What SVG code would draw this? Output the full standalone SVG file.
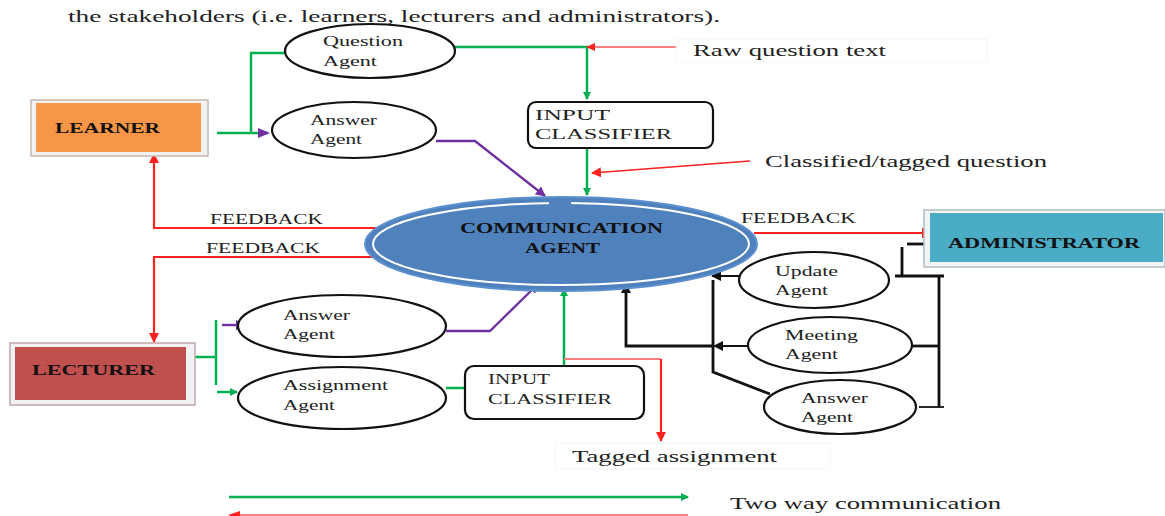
<svg xmlns="http://www.w3.org/2000/svg" width="1165" height="516" viewBox="0 0 1165 516">
<defs>
<style>
text{font-family:"Liberation Serif","Times New Roman",serif;fill:#222}
.lbl{font-size:14px}
.big{font-size:17px}
.bold{font-weight:bold;font-size:14px;fill:#111}
.el{fill:#fff;stroke:#111;stroke-width:2.2}
.g{stroke:#00b050;stroke-width:2.5;fill:none}
.p{stroke:#7030a0;stroke-width:2.4;fill:none}
.r{stroke:#ff2020;stroke-width:2.2;fill:none}
.rl{stroke:#ff8080;stroke-width:1.8;fill:none}
.k{stroke:#111;stroke-width:2.8;fill:none}
</style>
<marker id="ag" markerWidth="8" markerHeight="8" refX="7" refY="4" orient="auto" markerUnits="userSpaceOnUse"><path d="M0,0L8,4L0,8z" fill="#00b050"/></marker>
<marker id="ap" markerWidth="10" markerHeight="10" refX="9" refY="5" orient="auto" markerUnits="userSpaceOnUse"><path d="M0,0L10,5L0,10z" fill="#7030a0"/></marker>
<marker id="ar" markerWidth="10" markerHeight="10" refX="9" refY="5" orient="auto" markerUnits="userSpaceOnUse"><path d="M0,0L10,5L0,10z" fill="#ff2020"/></marker>
<marker id="ak" markerWidth="10" markerHeight="10" refX="9" refY="5" orient="auto" markerUnits="userSpaceOnUse"><path d="M0,0L10,5L0,10z" fill="#111"/></marker>
<marker id="bar" markerWidth="2" markerHeight="10" refX="1" refY="5" orient="auto" markerUnits="userSpaceOnUse"><rect x="0" y="0" width="2" height="10" fill="#ff2020"/></marker>
</defs>
<rect width="1165" height="516" fill="#fff"/>
<text x="68" y="22" class="big" textLength="652" lengthAdjust="spacingAndGlyphs">the stakeholders (i.e. learners, lecturers and administrators).</text>

<g id="connectors">
<polyline class="g" points="217,133 268,133"/>
<path d="M258,128L270,133L258,138z" fill="#7030a0"/>
<polyline class="g" points="251,133 251,53 286,53"/>
<polyline class="g" points="454,47 587,47 587,99" marker-end="url(#ag)"/>
<line class="rl" x1="677" y1="47" x2="590" y2="47"/>
<path d="M586,47L595,43L595,51z" fill="#ff2020"/>
<line class="g" x1="587" y1="148" x2="587" y2="195" marker-end="url(#ag)"/>
<line class="r" x1="750" y1="161" x2="592" y2="173" marker-end="url(#ar)" style="stroke-width:1.5"/>
<polyline class="p" points="436,141 475,141 545,196" marker-end="url(#ap)"/>
<polyline class="r" points="387,228 154,228 154,154" marker-end="url(#ar)"/>
<polyline class="r" points="387,257 154,257 154,342" marker-end="url(#ar)"/>
<line class="r" x1="754" y1="233" x2="923" y2="233" marker-end="url(#bar)"/>
<line class="g" x1="195" y1="357" x2="216" y2="357"/>
<line class="g" x1="216" y1="320" x2="216" y2="385"/>
<line class="p" x1="222" y1="325" x2="245" y2="325" marker-end="url(#ap)"/>
<line class="g" x1="217" y1="392" x2="237" y2="392" marker-end="url(#ag)"/>
<polyline class="p" points="446,331 490,331 538,284" marker-end="url(#ap)"/>
<line class="g" x1="446" y1="388" x2="465" y2="388"/>
<line class="g" x1="564" y1="366" x2="564" y2="289" marker-end="url(#ag)"/>
<polyline class="rl" points="564,359 661,359"/>
<line class="r" x1="661" y1="359" x2="661" y2="441" marker-end="url(#ar)"/>
<line class="k" x1="907" y1="244" x2="932" y2="244"/>
<line class="k" x1="902" y1="247" x2="902" y2="277"/>
<line class="k" x1="895" y1="276" x2="944" y2="276"/>
<line class="k" x1="939" y1="276" x2="939" y2="407"/>
<line class="k" x1="919" y1="407" x2="944" y2="407" style="stroke-width:1.8"/>
<line class="k" x1="909" y1="346" x2="939" y2="346"/>
<line class="k" x1="739" y1="276" x2="712" y2="276" marker-end="url(#ak)" style="stroke-width:2"/>
<polyline class="k" points="713,280 713,372 770,394"/>
<line class="k" x1="748" y1="346" x2="714" y2="346" marker-end="url(#ak)" style="stroke-width:2"/>
<polyline class="k" points="714,346 626,346 626,284" marker-end="url(#ak)"/>
<line class="g" x1="229" y1="497" x2="688" y2="497" marker-end="url(#ag)"/>
<line class="rl" x1="240" y1="515" x2="688" y2="515"/>
<path d="M228,515L240,511L240,519z" fill="#ff2020"/>
</g>

<g id="learner">
<rect x="31" y="100" width="177" height="56" fill="#f2f2f2" stroke="#c8b8b0" stroke-width="1.5"/>
<rect x="36" y="103" width="165" height="49" fill="#f79646"/>
<text x="55" y="133" class="bold" textLength="105" lengthAdjust="spacingAndGlyphs">LEARNER</text>
</g>

<g id="question-agent">
<ellipse cx="370" cy="51" rx="85" ry="27" class="el"/>
<text x="323" y="46" class="lbl" textLength="80" lengthAdjust="spacingAndGlyphs">Question</text>
<text x="323" y="66" class="lbl" textLength="54" lengthAdjust="spacingAndGlyphs">Agent</text>
</g>

<g id="answer-agent-learner">
<ellipse cx="354" cy="130" rx="82" ry="28" class="el"/>
<text x="310" y="125" class="lbl" textLength="67" lengthAdjust="spacingAndGlyphs">Answer</text>
<text x="310" y="144" class="lbl" textLength="52" lengthAdjust="spacingAndGlyphs">Agent</text>
</g>

<g id="input-classifier-top">
<rect x="528" y="102" width="185" height="46" rx="8" fill="#fff" stroke="#111" stroke-width="2.2"/>
<text x="535" y="120" class="lbl" textLength="75" lengthAdjust="spacingAndGlyphs">INPUT</text>
<text x="535" y="139" class="lbl" textLength="137" lengthAdjust="spacingAndGlyphs">CLASSIFIER</text>
</g>

<g id="raw-question-text">
<rect x="676" y="39" width="311" height="23" fill="none" stroke="#f6f6f6"/>
<text x="693" y="56" class="big" textLength="193" lengthAdjust="spacingAndGlyphs">Raw question text</text>
</g>

<g id="classified-label">
<text x="765" y="167" class="big" textLength="282" lengthAdjust="spacingAndGlyphs">Classified/tagged question</text>
</g>

<g id="feedback-labels">
<text x="210" y="224" class="lbl" textLength="113" lengthAdjust="spacingAndGlyphs">FEEDBACK</text>
<text x="206" y="253" class="lbl" textLength="114" lengthAdjust="spacingAndGlyphs">FEEDBACK</text>
<text x="741" y="223" class="lbl" textLength="115" lengthAdjust="spacingAndGlyphs">FEEDBACK</text>
</g>

<g id="communication-agent">
<ellipse cx="561" cy="244" rx="196" ry="47" fill="#4f81bd" stroke="#5b8fd0" stroke-width="2"/>
<ellipse cx="561" cy="244" rx="188" ry="41" fill="none" stroke="#fff" stroke-width="2"/>
<rect x="549" y="200" width="22" height="5" fill="#4f81bd"/>
<text x="460" y="233" class="bold" textLength="203" lengthAdjust="spacingAndGlyphs">COMMUNICATION</text>
<text x="525" y="253" class="bold" textLength="75" lengthAdjust="spacingAndGlyphs">AGENT</text>
</g>

<g id="administrator">
<rect x="924" y="210" width="241" height="57" fill="#f4f4f4" stroke="#b0bcc4" stroke-width="1.5"/>
<rect x="930" y="213" width="233" height="49" fill="#4bacc6"/>
<text x="948" y="248" class="bold" textLength="192" lengthAdjust="spacingAndGlyphs">ADMINISTRATOR</text>
</g>

<g id="update-agent">
<ellipse cx="814" cy="280" rx="75" ry="28" class="el"/>
<text x="775" y="276" class="lbl" textLength="63" lengthAdjust="spacingAndGlyphs">Update</text>
<text x="775" y="295" class="lbl" textLength="53" lengthAdjust="spacingAndGlyphs">Agent</text>
</g>

<g id="meeting-agent">
<ellipse cx="830" cy="345" rx="82" ry="28" class="el"/>
<text x="785" y="340" class="lbl" textLength="73" lengthAdjust="spacingAndGlyphs">Meeting</text>
<text x="785" y="359" class="lbl" textLength="53" lengthAdjust="spacingAndGlyphs">Agent</text>
</g>

<g id="answer-agent-admin">
<ellipse cx="840" cy="407" rx="76" ry="27" class="el"/>
<text x="801" y="403" class="lbl" textLength="67" lengthAdjust="spacingAndGlyphs">Answer</text>
<text x="801" y="422" class="lbl" textLength="52" lengthAdjust="spacingAndGlyphs">Agent</text>
</g>

<g id="lecturer">
<rect x="10" y="343" width="185" height="62" fill="#f2f2f2" stroke="#c0a8a8" stroke-width="1.5"/>
<rect x="15" y="347" width="171" height="53" fill="#c0504d"/>
<text x="32" y="375" class="bold" textLength="123" lengthAdjust="spacingAndGlyphs">LECTURER</text>
</g>

<g id="answer-agent-lecturer">
<ellipse cx="342" cy="326" rx="104" ry="31" class="el"/>
<text x="283" y="320" class="lbl" textLength="67" lengthAdjust="spacingAndGlyphs">Answer</text>
<text x="283" y="339" class="lbl" textLength="52" lengthAdjust="spacingAndGlyphs">Agent</text>
</g>

<g id="assignment-agent">
<ellipse cx="342" cy="398" rx="104" ry="31" class="el"/>
<text x="283" y="390" class="lbl" textLength="105" lengthAdjust="spacingAndGlyphs">Assignment</text>
<text x="283" y="410" class="lbl" textLength="52" lengthAdjust="spacingAndGlyphs">Agent</text>
</g>

<g id="input-classifier-bottom">
<rect x="465" y="366" width="179" height="53" rx="9" fill="#fff" stroke="#111" stroke-width="2.2"/>
<text x="488" y="384" class="lbl" textLength="62" lengthAdjust="spacingAndGlyphs">INPUT</text>
<text x="488" y="404" class="lbl" textLength="124" lengthAdjust="spacingAndGlyphs">CLASSIFIER</text>
</g>

<g id="tagged-assignment">
<rect x="555" y="443" width="275" height="26" fill="none" stroke="#f6f6f6"/>
<text x="572" y="462" class="big" textLength="205" lengthAdjust="spacingAndGlyphs">Tagged assignment</text>
</g>

<g id="legend">
<text x="730" y="509" class="big" textLength="271" lengthAdjust="spacingAndGlyphs">Two way communication</text>
</g>
</svg>
